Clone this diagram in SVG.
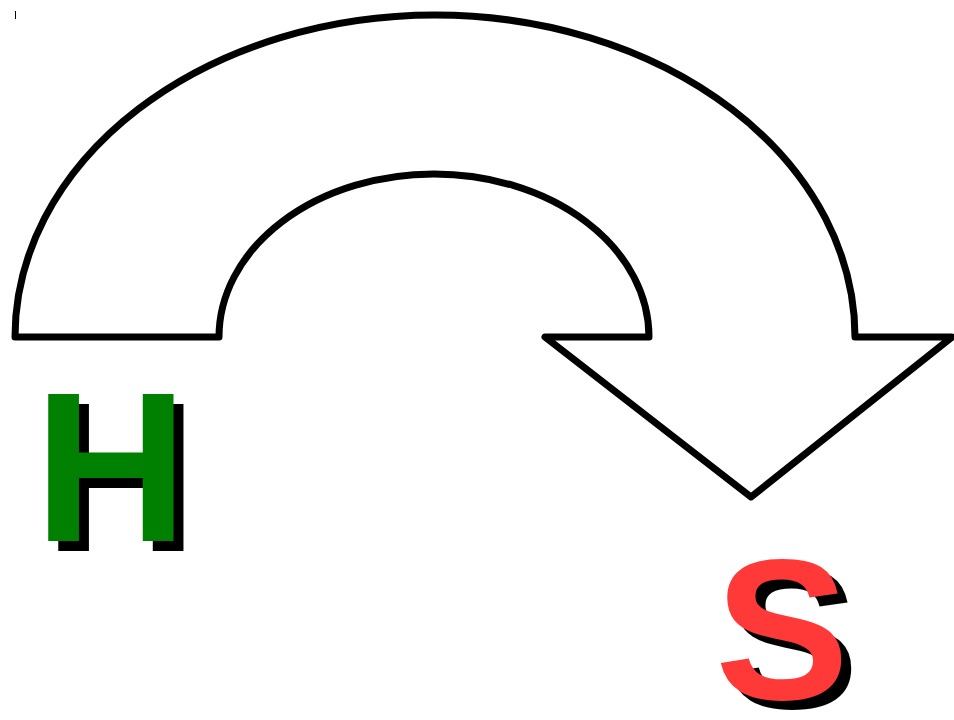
<svg xmlns="http://www.w3.org/2000/svg" width="954" height="720" viewBox="0 0 954 720">
<style>
.lbl{font-family:"Liberation Sans",Arial,sans-serif;font-weight:bold;text-anchor:middle}
.sh{fill:#000}
</style>
<rect width="954" height="720" fill="#fff"/>
<line x1="15.5" y1="11" x2="15.5" y2="19" stroke="#000" stroke-width="1"/>
<g id="connectors">
<path id="uturn" d="M15,337 A420,322 0 0 1 855,337 L952,337 L751,497 L545,337 L649,337 A215,163 0 0 0 219,337 Z" fill="#fff" stroke="#000" stroke-width="7" stroke-linejoin="round"/>
</g>
<g id="nodeH">
<text class="lbl sh" x="121" y="551" font-size="213">H</text>
<text class="lbl" x="111" y="541" font-size="213" fill="#008000">H</text>
</g>
<g id="nodeS">
<text class="lbl sh" x="792" y="708" font-size="201">S</text>
<text class="lbl" x="782" y="699" font-size="201" fill="#ff3838">S</text>
</g>
</svg>
